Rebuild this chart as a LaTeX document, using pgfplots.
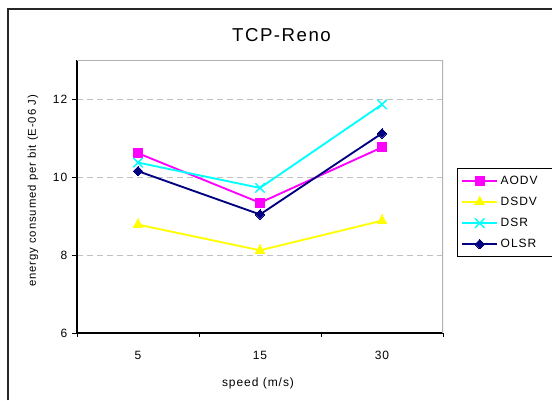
\documentclass[border=0pt]{standalone}
\usepackage{fontspec}
\setmainfont{Liberation Sans}
\newfontfamily\spaced[LetterSpace=8]{Liberation Sans}
\usepackage{pgfplots}
\pgfplotsset{compat=1.18}

\definecolor{aodv}{RGB}{255,0,255}
\definecolor{dsdv}{RGB}{255,255,0}
\definecolor{dsr}{RGB}{0,255,255}
\definecolor{olsr}{RGB}{0,0,128}
\definecolor{gridgray}{RGB}{192,192,192}

\begin{document}
\begin{tikzpicture}
\useasboundingbox (0,0) rectangle (414pt,-300pt);
% chart frame
\draw[line width=1.1pt, black!85] (6pt,-300pt) -- (6pt,-6.75pt) -- (414pt,-6.75pt);

\begin{axis}[
  at={(57.75pt,-249.75pt)}, anchor=south west,
  width=274.5pt, height=204.75pt, scale only axis,
  xmin=0, xmax=3, ymin=6, ymax=13,
  axis lines*=left,
  axis line style={-, line width=0.8pt, black},
  xtick={0.5,1.5,2.5}, xticklabels={5,15,30},
  minor xtick={0,1,2,3},
  ytick={6,8,10,12},
  tick align=outside,
  major tick length=3.75pt, minor tick length=3pt,
  major x tick style={draw=none},
  tick style={line width=0.6pt, black},
  ymajorgrids,
  grid style={gridgray, line width=0.6pt, dash pattern=on 4.5pt off 3pt},
  /pgf/number format/assume math mode=true,
  ticklabel style={font=\fontsize{9}{10}\selectfont\spaced},
  xticklabel style={yshift=-6.5pt},
  legend style={
    at={(1.0383,0.6044)}, anchor=north west,
    draw=black, line width=0.75pt,
    font=\fontsize{9}{10}\selectfont\spaced,
    inner xsep=3pt, inner ysep=3.5pt,
    row sep=4pt,
    cells={anchor=west},
  },
  legend image code/.code={
    \draw[mark repeat=2, mark phase=2] plot coordinates {(0pt,0pt) (13pt,0pt) (26pt,0pt)};
  },
  every axis plot/.append style={line width=1.4pt},
]
\addplot[aodv, mark=square*, mark size=3.4pt, mark options={line width=0pt}]
  coordinates {(0.5,10.61) (1.5,9.34) (2.5,10.76)};
\addlegendentry{AODV\hspace*{6pt}}
\addplot[dsdv, mark=triangle*, mark size=4.3pt, mark options={line width=0pt}]
  coordinates {(0.5,8.78) (1.5,8.12) (2.5,8.88)};
\addlegendentry{DSDV\hspace*{6pt}}
\addplot[dsr, mark=x, mark size=5pt, mark options={line width=1.1pt}]
  coordinates {(0.5,10.37) (1.5,9.72) (2.5,11.86)};
\addlegendentry{DSR}
\addplot[olsr, mark=square*, mark size=2.5pt, mark options={line width=0pt, rotate=45}]
  coordinates {(0.5,10.15) (1.5,9.04) (2.5,11.12)};
\addlegendentry{OLSR\hspace*{6pt}}

% plot area border on the top and right
\draw[gray!60, line width=0.8pt] (rel axis cs:0,1) -- (rel axis cs:1,1) -- (rel axis cs:1,0);
\end{axis}

\node[font=\fontsize{14}{16}\selectfont\spaced] at (211.1pt,-26.25pt) {TCP-Reno};
\node[font=\fontsize{8.5}{10}\selectfont\spaced, rotate=90] at (24.75pt,-143.25pt) {energy consumed per bit (E-06 J)};
\node[font=\fontsize{9}{10}\selectfont\spaced] at (193.5pt,-287.25pt) {speed (m/s)};
\end{tikzpicture}
\end{document}
